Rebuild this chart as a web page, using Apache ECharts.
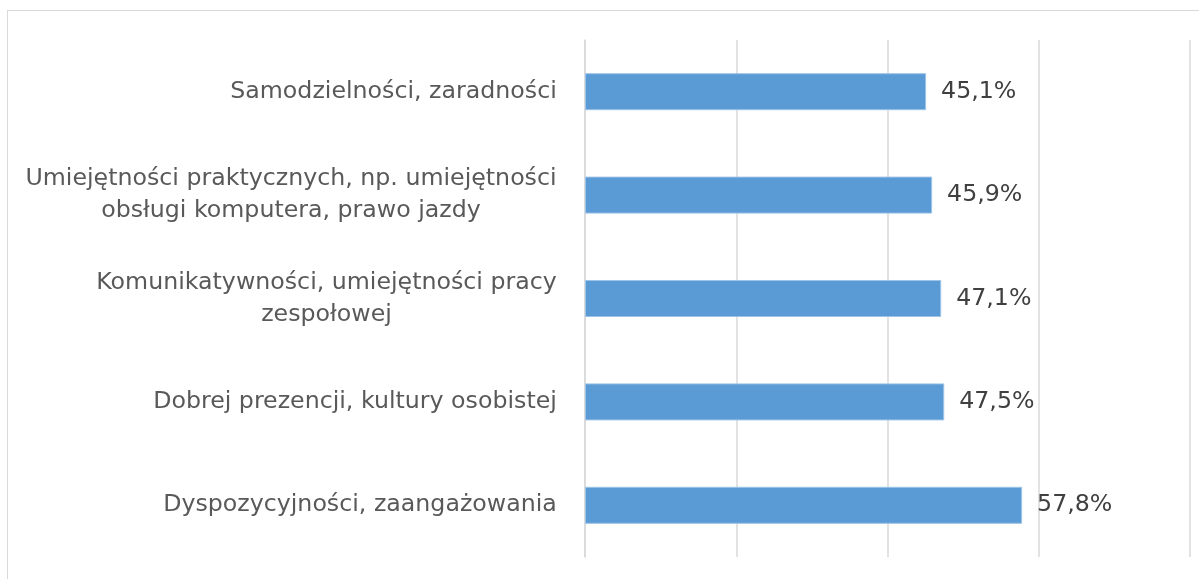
<!DOCTYPE html>
<html>
<head>
<meta charset="utf-8">
<script src="https://cdn.jsdelivr.net/npm/echarts@6/dist/echarts.min.js"></script>
<style>
  html, body { margin: 0; padding: 0; background: #fff; }
  #frame { position: absolute; left: 7px; top: 10px; width: 1210px; height: 590px; border: 1px solid #d9d9d9; box-sizing: border-box; }
  #chart { position: absolute; left: 0; top: 0; width: 1199px; height: 579px; }
</style>
</head>
<body>
<div id="frame"></div>
<div id="chart"></div>
<script>
const categories = [
  'Samodzielności, zaradności',
  'Umiejętności praktycznych, np. umiejętności\nobsługi komputera, prawo jazdy',
  'Komunikatywności, umiejętności pracy\nzespołowej',
  'Dobrej prezencji, kultury osobistej',
  'Dyspozycyjności, zaangażowania'
]
const values = [45.1, 45.9, 47.1, 47.5, 57.8]
const axisMax = 80
const axisStep = 20

const fontFamily = 'DejaVu Sans'
const fontSize = 23.7

// each label block is right-aligned, its lines centred inside the block
const ctx = document.createElement('canvas').getContext('2d')
ctx.font = fontSize + 'px "' + fontFamily + '"'
const rich = {}
categories.forEach(function (c, i) {
  const w = Math.max.apply(null, c.split('\n').map(function (l) { return ctx.measureText(l).width }))
  rich['w' + i] = { width: Math.ceil(w), align: 'center', color: '#595959', fontFamily: fontFamily, fontSize: fontSize, lineHeight: 32 }
})

const chart = echarts.init(document.getElementById('chart'))
chart.setOption({
  animation: false,
  grid: {
    left: 585,
    right: 9,
    top: 40,
    bottom: 22
  },
  xAxis: {
    type: 'value',
    min: 0,
    max: axisMax,
    interval: axisStep,
    axisLabel: { show: false },
    axisLine: { show: false },
    axisTick: { show: false },
    splitLine: { lineStyle: { color: '#d9d9d9', width: 1.5 } }
  },
  yAxis: {
    type: 'category',
    inverse: true,
    data: categories,
    axisLine: { show: true, lineStyle: { color: '#d9d9d9', width: 1.5 } },
    axisTick: { show: false },
    axisLabel: {
      margin: 28,
      align: 'right',
      rich: rich,
      formatter: function (v, i) {
        return v.split('\n').map(function (l) { return '{w' + i + '|' + l + '}' }).join('\n')
      }
    }
  },
  series: [{
    type: 'bar',
    data: values,
    barWidth: 37,
    itemStyle: { color: '#5b9bd5', borderColor: '#9dc3e6', borderWidth: 1 },
    label: {
      show: true,
      position: 'right',
      distance: 15,
      color: '#404040',
      fontFamily: fontFamily,
      fontSize: fontSize,
      formatter: function (p) { return p.value.toFixed(1).replace('.', ',') + '%' }
    }
  }]
})
</script>
</body>
</html>
